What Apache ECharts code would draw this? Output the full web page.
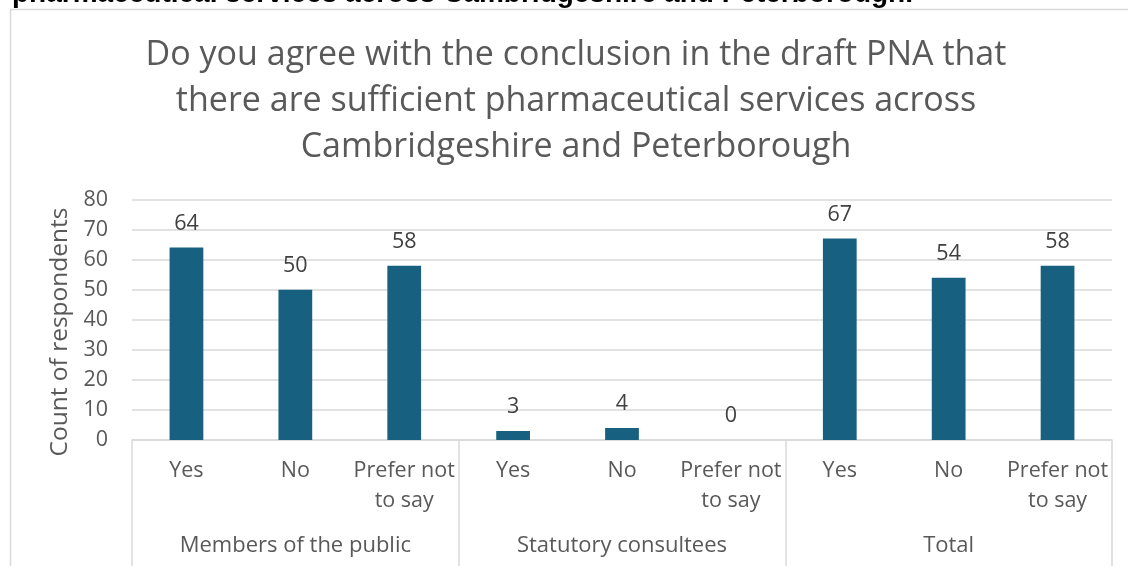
<!DOCTYPE html>
<html>
<head>
<meta charset="utf-8">
<script src="https://cdn.jsdelivr.net/npm/echarts@6/dist/echarts.min.js"></script>
<style>
  html, body { margin: 0; padding: 0; background: #fff; }
  #chart { width: 1128px; height: 566px; }
</style>
</head>
<body>
<div id="chart"></div>
<script>
// Responses to the draft PNA sufficiency question
const groups = ['Members of the public', 'Statutory consultees', 'Total'];
const answers = ['Yes', 'No', 'Prefer not\nto say'];
const publicCounts = [64, 50, 58];
const statutoryCounts = [3, 4, 0];
const totalCounts = [67, 54, 58];
const yTicks = [0, 10, 20, 30, 40, 50, 60, 70, 80];

const categories = [];
groups.forEach(() => answers.forEach(a => categories.push(a)));
const values = [].concat(publicCounts, statutoryCounts, totalCounts);

const grey = '#595959';
const lineGrey = '#d9d9d9';
const font = '"Open Sans", Lato, sans-serif';

const chart = echarts.init(document.getElementById('chart'), null, { renderer: 'canvas' });
chart.setOption({
  animation: false,
  backgroundColor: '#fff',
  title: {
    text: 'Do you agree with the conclusion in the draft PNA that\nthere are sufficient pharmaceutical services across\nCambridgeshire and Peterborough',
    left: 571,
    textAlign: 'center',
    top: 27,
    textStyle: { fontFamily: font, fontSize: 34, fontWeight: 'normal', color: grey, lineHeight: 46 }
  },
  graphic: [
    {
      type: 'text', left: 12, top: -19.5,
      style: { text: 'pharmaceutical services across Cambridgeshire and Peterborough.', font: 'bold 28px "Liberation Sans", Arial, sans-serif', fill: '#000' }
    },
    {
      type: 'rect', shape: { x: 10.5, y: 9.5, width: 1130, height: 600 },
      style: { fill: 'none', stroke: lineGrey, lineWidth: 1.5 }, silent: true, z: -1
    },
    {
      type: 'text', x: 60, y: 332, rotation: Math.PI / 2,
      style: { text: 'Count of respondents', font: '24.5px "Open Sans", sans-serif', fill: grey, align: 'center', verticalAlign: 'middle' }
    }
  ],
  grid: { left: 132, right: 16, top: 199.5, bottom: 126, containLabel: false },
  xAxis: [
    {
      type: 'category', data: categories,
      axisLine: { show: true, lineStyle: { color: lineGrey, width: 1.5 } },
      axisTick: { show: false },
      axisLabel: { interval: 0, color: grey, fontFamily: font, fontSize: 21.5, lineHeight: 30, margin: 16, verticalAlign: 'top' }
    },
    {
      type: 'category', data: groups, position: 'bottom', offset: 0,
      axisLine: { show: false },
      axisTick: { show: true, length: 130, alignWithLabel: false, lineStyle: { color: lineGrey, width: 1.5 } },
      axisLabel: { interval: 0, color: grey, fontFamily: font, fontSize: 22, margin: 95, verticalAlign: 'top' }
    }
  ],
  yAxis: {
    type: 'value', min: 0, max: 80, interval: 10,
    axisLine: { show: false }, axisTick: { show: false },
    axisLabel: { color: grey, fontFamily: font, fontSize: 21.5, margin: 24,
      formatter: v => yTicks.includes(v) ? String(v) : '' },
    splitLine: { lineStyle: { color: lineGrey, width: 1.5 } }
  },
  series: [{
    type: 'bar', data: values, xAxisIndex: 0, barWidth: '31%',
    itemStyle: { color: '#17607f' },
    label: { show: true, position: 'top', distance: 13, color: '#404040', fontFamily: font, fontSize: 21.5 }
  }]
});
</script>
</body>
</html>
